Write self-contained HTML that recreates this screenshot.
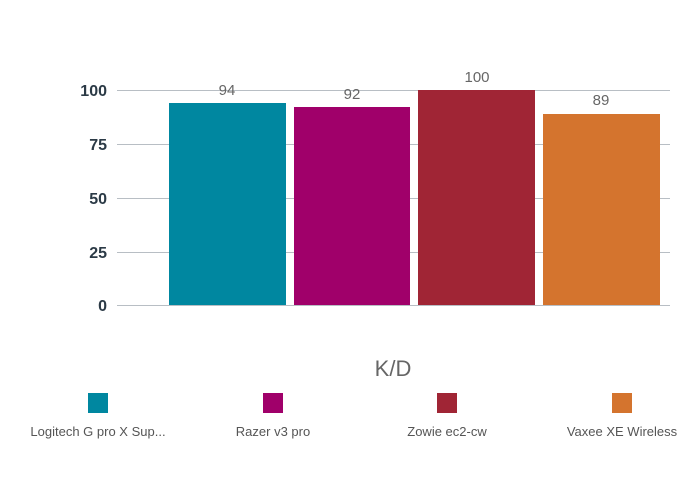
<!DOCTYPE html><html><head><style>body{margin:0;background:#fff}</style></head><body>
<svg width="700" height="481" xmlns="http://www.w3.org/2000/svg" font-family="Liberation Sans, sans-serif">
<g stroke="#b8bec4" stroke-width="1">
<line x1="117" y1="90.5" x2="670" y2="90.5"/><line x1="117" y1="144.5" x2="670" y2="144.5"/>
<line x1="117" y1="198.5" x2="670" y2="198.5"/><line x1="117" y1="252.5" x2="670" y2="252.5"/>
<line x1="117" y1="305.5" x2="670" y2="305.5"/></g>
<g font-size="16" font-weight="bold" fill="#2b3a46" text-anchor="end">
<text x="107" y="96">100</text><text x="107" y="150">75</text><text x="107" y="204">50</text><text x="107" y="258">25</text><text x="107" y="311">0</text></g>
<rect x="169" y="103" width="117" height="202" fill="#0087a0"/>
<rect x="294" y="107" width="116" height="198" fill="#a0006a"/>
<rect x="418" y="90" width="117" height="215" fill="#a02535"/>
<rect x="543" y="114" width="117" height="191" fill="#d4742e"/>
<g font-size="15" fill="#666" text-anchor="middle">
<text x="227" y="95">94</text><text x="352" y="99">92</text><text x="477" y="82">100</text><text x="601" y="105">89</text></g>
<text x="393" y="376" font-size="22" fill="#666" text-anchor="middle">K/D</text>
<rect x="88" y="393" width="20" height="20" fill="#0087a0"/>
<rect x="263" y="393" width="20" height="20" fill="#a0006a"/>
<rect x="437" y="393" width="20" height="20" fill="#a02535"/>
<rect x="612" y="393" width="20" height="20" fill="#d4742e"/>
<g font-size="13" fill="#555" text-anchor="middle">
<text x="98" y="436">Logitech G pro X Sup...</text><text x="273" y="436">Razer v3 pro</text>
<text x="447" y="436">Zowie ec2-cw</text><text x="622" y="436">Vaxee XE Wireless</text></g>
</svg></body></html>
